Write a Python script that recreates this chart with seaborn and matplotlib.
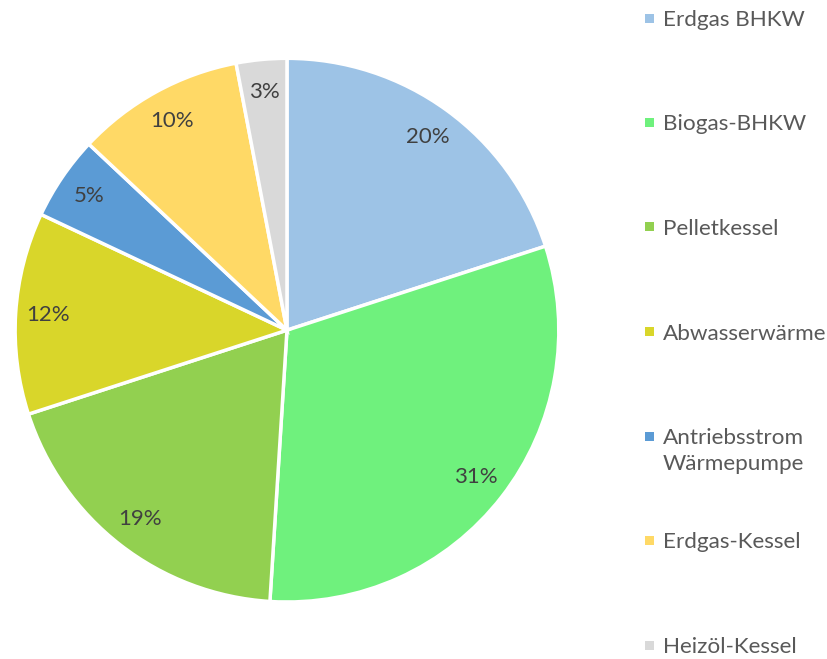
import matplotlib
matplotlib.use("Agg")
import matplotlib.pyplot as plt
import matplotlib.patches as mpatches
import seaborn as sns

# Anteile der Wärmeerzeuger
labels = ["Erdgas BHKW", "Biogas-BHKW", "Pelletkessel", "Abwasserwärme",
          "Antriebsstrom\nWärmepumpe", "Erdgas-Kessel", "Heizöl-Kessel"]
shares = [20, 31, 19, 12, 5, 10, 3]
colors = ["#9DC3E6", "#6FF17D", "#92D050", "#D9D62A", "#5B9BD5", "#FFD966", "#D9D9D9"]

sns.set_theme(style="white")
plt.rcParams['font.family'] = ['Lato', 'DejaVu Sans']

W, H = 827, 659
fig = plt.figure(figsize=(W / 100, H / 100), dpi=100)
ax = fig.add_axes([0.018, 0.0865, 0.658, 0.825])

wedges, texts, autotexts = ax.pie(
    shares, colors=colors, startangle=90, counterclock=False,
    autopct="%1.0f%%", pctdistance=0.88,
    wedgeprops={"edgecolor": "white", "linewidth": 2.5},
    textprops={"fontsize": 16, "color": "#404040"})
ax.set_xlim(-1.0, 1.0)
ax.set_ylim(-1.0, 1.0)
ax.set_aspect("equal")

# Legende wie in Excel: Marker + Text, gleichmäßig verteilt
top_px, pitch_px, box_px = 18, 104.5, 9
for i, (lab, col) in enumerate(zip(labels, colors)):
    yc = top_px + i * pitch_px
    fig.add_artist(mpatches.Rectangle(
        (645 / W, 1 - (yc + box_px / 2) / H), box_px / W, box_px / H,
        facecolor=col, edgecolor="none", transform=fig.transFigure))
    fig.text(663 / W, 1 - (yc - 8) / H, lab, ha="left", va="top",
             fontsize=16.2, color="#595959", linespacing=1.4)

fig.savefig("out.png", dpi=100)
